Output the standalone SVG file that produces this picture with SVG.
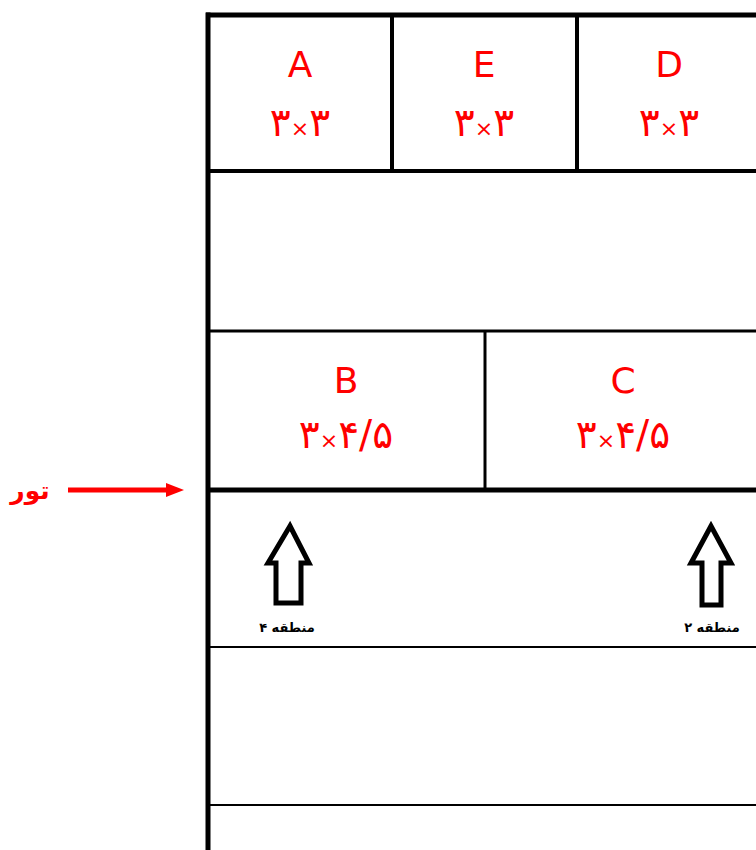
<svg xmlns="http://www.w3.org/2000/svg" width="756" height="850" viewBox="0 0 756 850">
<style>
.lbl{font-family:"DejaVu Sans",sans-serif;font-size:36px;fill:#ff0000;text-anchor:middle}
.dim{font-family:"DejaVu Sans",sans-serif;font-size:39px;fill:#ff0000;text-anchor:middle;direction:ltr}
.x{font-size:22px}
.zone{font-family:"DejaVu Sans",sans-serif;font-size:13px;font-weight:bold;fill:#000;text-anchor:middle}
.k{stroke:#000;fill:none}
</style>
<rect width="756" height="850" fill="#fff"/>
<g id="frame">
<line class="k" x1="208" y1="12.5" x2="208" y2="850" stroke-width="5"/>
<line class="k" x1="206" y1="15" x2="756" y2="15" stroke-width="5"/>
<line class="k" x1="208" y1="171" x2="756" y2="171" stroke-width="4"/>
<line class="k" x1="208" y1="331" x2="756" y2="331" stroke-width="3"/>
<line class="k" x1="208" y1="490" x2="756" y2="490" stroke-width="5"/>
<line class="k" x1="208" y1="647" x2="756" y2="647" stroke-width="2"/>
<line class="k" x1="208" y1="805" x2="756" y2="805" stroke-width="2"/>
<line class="k" x1="392" y1="15" x2="392" y2="171" stroke-width="4"/>
<line class="k" x1="577" y1="15" x2="577" y2="171" stroke-width="4"/>
<line class="k" x1="485" y1="331" x2="485" y2="490" stroke-width="3"/>
</g>
<g id="room-A"><text class="lbl" x="300" y="77">A</text><text class="dim" x="300" y="136">۳<tspan class="x">×</tspan>۳</text></g>
<g id="room-E"><text class="lbl" x="484" y="77">E</text><text class="dim" x="484" y="136">۳<tspan class="x">×</tspan>۳</text></g>
<g id="room-D"><text class="lbl" x="669" y="77">D</text><text class="dim" x="669" y="136">۳<tspan class="x">×</tspan>۳</text></g>
<g id="room-B"><text class="lbl" x="346" y="393">B</text><text class="dim" x="346" y="448">۳<tspan class="x">×</tspan>۴/۵</text></g>
<g id="room-C"><text class="lbl" x="623" y="393">C</text><text class="dim" x="623" y="448">۳<tspan class="x">×</tspan>۴/۵</text></g>
<g id="zone-4">
<path class="k" stroke-width="5" stroke-linejoin="miter" d="M290,526 L268,563 L276,563 L276,603 L301,603 L301,563 L309,563 Z"/>
<text class="zone" x="287" y="632">منطقه ۴</text>
</g>
<g id="zone-2">
<path class="k" stroke-width="5" stroke-linejoin="miter" d="M711,526 L691,563 L702,563 L702,605 L721,605 L721,563 L731,563 Z"/>
<text class="zone" x="712" y="632">منطقه ۲</text>
</g>
<g id="connectors">
<line x1="68" y1="490" x2="168" y2="490" stroke="#ff0000" stroke-width="5"/>
<polygon points="184,490 166,483 166,497" fill="#ff0000"/>
</g>
<g id="tour"><text x="30" y="499" font-family="DejaVu Sans, sans-serif" font-size="25" font-weight="bold" fill="#ff0000" text-anchor="middle">تور</text></g>
</svg>
